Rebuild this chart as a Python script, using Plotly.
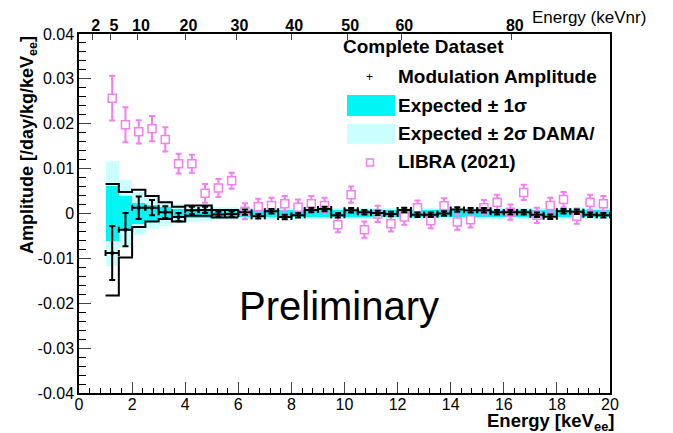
import plotly.graph_objects as go

# ---------------- data ----------------
bin_centers = [1.25 + 0.5 * i for i in range(38)]
bin_halfwidth = 0.25

mod_amp = [-0.0088, -0.0036, 0.0013, 0.0013, 0.0003, -0.0008, 0.0007, 0.0008,
           -0.0002, -0.0001, 0.0003, -0.0006, 0.0005, -0.0008, -0.0004, 0.0008,
           0.0010, -0.0004, 0.0007, 0.0003, 0.0001, -0.0001, 0.0008, -0.0003,
           -0.0003, 0.0000, 0.0009, 0.0007, 0.0007, 0.0003, 0.0003, 0.0003,
           -0.0003, -0.0007, 0.0005, 0.0004, -0.0003, -0.0004]
mod_err = [0.0060, 0.0037, 0.0025, 0.0017, 0.0013, 0.0009, 0.0008, 0.0007,
           0.0006, 0.0006, 0.0006, 0.0005, 0.0005, 0.0005, 0.0005, 0.0005,
           0.0005, 0.0005, 0.0005, 0.0005, 0.0005, 0.0005, 0.0005, 0.0005,
           0.0005, 0.0005, 0.0005, 0.0005, 0.0005, 0.0005, 0.0005, 0.0005,
           0.0005, 0.0005, 0.0005, 0.0005, 0.0005, 0.0005]

dama_amp = [0.0257, 0.0198, 0.0182, 0.0189, 0.0165, 0.0111, 0.0111, 0.0045,
            0.0057, 0.0073, 0.0005, 0.0015, 0.0018, 0.0022, 0.0014, 0.0022,
            0.0018, -0.0025, 0.0042, -0.0036, -0.0001, -0.0023, -0.0008, 0.0013,
            -0.0016, 0.0017, -0.0019, -0.0014, 0.0013, 0.0025, 0.0003, 0.0047,
            -0.0004, 0.0018, 0.0031, -0.0006, 0.0025, 0.0022]
dama_err = [0.0050, 0.0039, 0.0026, 0.0028, 0.0027, 0.0022, 0.0020, 0.0021,
            0.0020, 0.0018, 0.0018, 0.0018, 0.0017, 0.0017, 0.0017, 0.0017,
            0.0017, 0.0017, 0.0018, 0.0018, 0.0018, 0.0017, 0.0017, 0.0016,
            0.0017, 0.0017, 0.0017, 0.0017, 0.0017, 0.0017, 0.0017, 0.0017,
            0.0017, 0.0017, 0.0017, 0.0017, 0.0017, 0.0017]

band1 = [0.0061, 0.0038, 0.0024, 0.0018, 0.0014, 0.0011, 0.0009, 0.0009,
         0.0008, 0.0008] + [0.0007] * 28
band2 = [0.0117, 0.0075, 0.0047, 0.0035, 0.0028, 0.0022, 0.0018, 0.0017,
         0.0015, 0.0015] + [0.0013] * 28

outline_edges = [1.0, 1.5, 2.0, 2.5, 3.0, 3.5, 4.0, 5.0, 6.0]
outline_upper = [0.0066, 0.0048, 0.0053, 0.0039, 0.0025, 0.0015, 0.0018, 0.0008]
outline_lower = [-0.0183, -0.0098, -0.0030, -0.0018, -0.0012, -0.0018, -0.0005, -0.0009]

x_ticks = list(range(0, 21, 2))
y_ticks = [-0.04, -0.03, -0.02, -0.01, 0.0, 0.01, 0.02, 0.03, 0.04]
y_ticklabels = ["-0.04", "-0.03", "-0.02", "-0.01", "0", "0.01", "0.02", "0.03", "0.04"]
nr_tick_pos_ee = [0.52, 1.20, 2.22, 4.01, 5.93, 7.99, 10.10, 12.14, 16.30]
nr_tick_labels = ["2", "5", "10", "20", "30", "40", "50", "60", "80"]

CYAN = "#00f5f5"
LCYAN = "#ccffff"
PINK = "#f57ef5"
FONT = "Liberation Sans"

fig = go.Figure()

# expected bands
fig.add_trace(go.Bar(x=bin_centers, y=[2 * v for v in band2], base=[-v for v in band2],
                     width=0.5, marker=dict(color=LCYAN, line=dict(width=0)), showlegend=False))
fig.add_trace(go.Bar(x=bin_centers, y=[2 * v for v in band1], base=[-v for v in band1],
                     width=0.5, marker=dict(color=CYAN, line=dict(width=0)), showlegend=False))

# black outline (step histograms)
fig.add_trace(go.Scatter(x=outline_edges, y=outline_upper + [outline_upper[-1]], mode="lines",
                         line=dict(color="black", width=2, shape="hv"), showlegend=False))
fig.add_trace(go.Scatter(x=outline_edges, y=outline_lower + [outline_lower[-1]], mode="lines",
                         line=dict(color="black", width=2, shape="hv"), showlegend=False))

# DAMA/LIBRA
fig.add_trace(go.Scatter(x=bin_centers, y=dama_amp, mode="markers",
                         marker=dict(symbol="square", size=8, color="white",
                                     line=dict(color=PINK, width=1.5)),
                         error_y=dict(type="data", array=dama_err, color=PINK, thickness=2, width=3),
                         showlegend=False))

# Modulation amplitude
fig.add_trace(go.Scatter(x=bin_centers, y=mod_amp, mode="markers",
                         marker=dict(symbol="circle", size=4, color="black"),
                         error_y=dict(type="data", array=mod_err, color="black", thickness=2, width=3),
                         error_x=dict(type="constant", value=bin_halfwidth, color="black", thickness=2, width=3),
                         showlegend=False))

# empty trace so the top (keVnr) axis is drawn
fig.add_trace(go.Scatter(x=[], y=[], xaxis="x2", yaxis="y", mode="markers",
                         showlegend=False, hoverinfo="skip"))

fig.update_layout(
    width=673, height=433,
    margin=dict(l=79, r=63, t=34, b=40),
    paper_bgcolor="white", plot_bgcolor="white",
    barmode="overlay", bargap=0,
    font=dict(family=FONT, color="black"),
    xaxis=dict(range=[0, 20], tickvals=x_ticks, ticks="inside", ticklen=11, tickwidth=1,
               showline=True, linecolor="black", linewidth=1.5, mirror=True,
               showgrid=False, zeroline=False, tickfont=dict(size=16, family=FONT),
               ticklabelstandoff=-4,
               minor=dict(dtick=0.4, tick0=0, ticks="inside", ticklen=5, tickcolor="black")),
    xaxis2=dict(range=[0, 20], overlaying="x", side="top", anchor="y",
                tickmode="array", tickvals=nr_tick_pos_ee, ticktext=nr_tick_labels,
                ticks="inside", ticklen=6, showline=True, linecolor="black", linewidth=1.5,
                showgrid=False, zeroline=False, ticklabelshift=3, ticklabelstandoff=-5,
                tickfont=dict(size=16, family=FONT, weight="bold")),
    yaxis=dict(range=[-0.04, 0.04], tickvals=y_ticks, ticktext=y_ticklabels,
               ticks="inside", ticklen=12, showline=True, linecolor="black", linewidth=1.5,
               mirror=True, showgrid=False, zeroline=False,
               tickfont=dict(size=16, family=FONT),
               minor=dict(dtick=0.002, tick0=0, ticks="inside", ticklen=7, tickcolor="black")),
)

B = dict(family=FONT, size=19, color="black", weight="bold")
ann = [
    dict(text="Amplitude [/day/kg/keV<sub>ee</sub>]", x=-0.096, y=1.0, xref="paper", yref="paper",
         xanchor="center", yanchor="top", textangle=-90, showarrow=False, font=dict(B, size=18)),
    dict(text="Energy [keV<sub>ee</sub>]", x=1.0, xshift=7, y=-0.081, xref="paper", yref="paper",
         xanchor="right", yanchor="middle", showarrow=False, font=dict(B, size=18.5)),
    dict(text="Energy (keVnr)", x=0.849, y=1.047, xref="paper", yref="paper",
         xanchor="left", yanchor="middle", showarrow=False, font=dict(family=FONT, size=17, color="black")),
    dict(text="Preliminary", x=0.4896, y=0.2423, xref="paper", yref="paper",
         xanchor="center", yanchor="middle", showarrow=False, font=dict(family=FONT, size=40, color="black")),
    dict(text="Complete Dataset", x=0.4934, y=0.9638, xref="paper", yref="paper",
         xanchor="left", yanchor="middle", showarrow=False, font=B),
    dict(text="Modulation Amplitude", x=0.5975, y=0.883, xref="paper", yref="paper",
         xanchor="left", yanchor="middle", showarrow=False, font=B),
    dict(text="Expected ± 1σ", x=0.5975, y=0.802, xref="paper", yref="paper",
         xanchor="left", yanchor="middle", showarrow=False, font=B),
    dict(text="Expected ± 2σ DAMA/", x=0.5975, y=0.7228, xref="paper", yref="paper",
         xanchor="left", yanchor="middle", showarrow=False, font=B),
    dict(text="LIBRA (2021)", x=0.5975, y=0.6448, xref="paper", yref="paper",
         xanchor="left", yanchor="middle", showarrow=False, font=B),
    dict(text="+", x=0.548, y=0.881, xref="paper", yref="paper",
         xanchor="center", yanchor="middle", showarrow=False, font=dict(family=FONT, size=12, color="black")),
]
fig.update_layout(annotations=ann)

fig.update_layout(shapes=[
    dict(type="rect", xref="paper", yref="paper", x0=0.5047, x1=0.5951, y0=0.7716, y1=0.8301,
         fillcolor=CYAN, line=dict(width=0)),
    dict(type="rect", xref="paper", yref="paper", x0=0.5047, x1=0.5951, y0=0.6936, y1=0.7493,
         fillcolor=LCYAN, line=dict(width=0)),
    dict(type="rect", xref="paper", yref="paper", x0=0.5414, x1=0.5546, y0=0.6323, y1=0.6518,
         fillcolor="white", line=dict(color=PINK, width=1.5)),
])

fig.write_html("out.html")
